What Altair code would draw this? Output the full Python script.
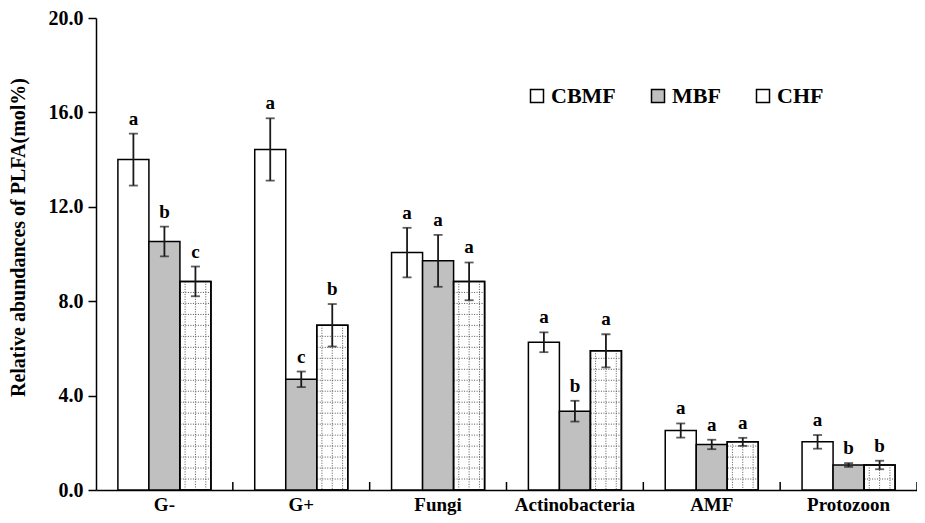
import altair as alt
import pandas as pd

categories = ["G-", "G+", "Fungi", "Actinobacteria", "AMF", "Protozoon"]
groups = ["CBMF", "MBF", "CHF"]

cbmf_mean = [14.0, 14.43, 10.06, 6.26, 2.52, 2.04]
cbmf_err = [1.1, 1.32, 1.05, 0.42, 0.3, 0.29]
cbmf_letters = ["a", "a", "a", "a", "a", "a"]

mbf_mean = [10.53, 4.69, 9.71, 3.34, 1.93, 1.06]
mbf_err = [0.63, 0.33, 1.1, 0.44, 0.2, 0.08]
mbf_letters = ["b", "c", "a", "b", "a", "b"]

chf_mean = [8.84, 6.98, 8.84, 5.9, 2.04, 1.06]
chf_err = [0.63, 0.9, 0.8, 0.7, 0.17, 0.18]
chf_letters = ["c", "b", "a", "a", "a", "b"]

y_ticks = [0, 4, 8, 12, 16, 20]

FONT = "'Liberation Serif', 'Times New Roman', Times, 'DejaVu Serif', serif"
W, H = 821, 472
PAD_IN, PAD_OUT = 0.32, 0.16

rows = []
for g, means, errs, lets in [("CBMF", cbmf_mean, cbmf_err, cbmf_letters),
                             ("MBF", mbf_mean, mbf_err, mbf_letters),
                             ("CHF", chf_mean, chf_err, chf_letters)]:
    for c, m, e, l in zip(categories, means, errs, lets):
        rows.append({"cat": c, "group": g, "mean": m, "lo": m - e, "hi": m + e, "letter": l})
df = pd.DataFrame(rows)
df_chf = df[df.group == "CHF"]

# hatch (grid) pattern rows for the CHF bars: a styling decoration, spacing ~11px
pat_step = 0.465
pat_rows = []
for c, m in zip(categories, chf_mean):
    k = 1
    while k * pat_step < m - 0.15:
        pat_rows.append({"cat": c, "level": k * pat_step})
        k += 1
df_pat = pd.DataFrame(pat_rows)
df_cat = pd.DataFrame({"cat": categories})

xscale = alt.Scale(domain=categories, paddingInner=PAD_IN, paddingOuter=PAD_OUT)
yscale = alt.Scale(domain=[0, 20], nice=False)
offscale = alt.Scale(domain=groups, paddingInner=0, paddingOuter=0)

xaxis = alt.Axis(title=None, ticks=False, labelFont=FONT, labelFontWeight="bold",
                 labelFontSize=19, labelColor="black", labelAngle=0,
                 labelBaseline="alphabetic", labelPadding=20,
                 domainColor="black", domainWidth=1.5, grid=False)
yaxis = alt.Axis(title="Relative abundances of PLFA(mol%)", values=y_ticks, format=".1f",
                 tickSize=8, tickColor="black", tickWidth=1.5,
                 domainColor="black", domainWidth=1.5, grid=False,
                 labelFont=FONT, labelFontWeight="bold", labelFontSize=20,
                 labelColor="black", labelPadding=5,
                 titleFont=FONT, titleFontWeight="bold", titleFontSize=20,
                 titleColor="black", titleX=-68, titleY=219, titleAngle=270,
                 titleBaseline="bottom", titleAlign="center")


def xenc(bp=None):
    if bp is None:
        return alt.X("cat:N", scale=xscale, axis=xaxis, sort=categories)
    return alt.X("cat:N", scale=xscale, axis=xaxis, sort=categories, bandPosition=bp)


def yenc(field):
    return alt.Y(f"{field}:Q", scale=yscale, axis=yaxis)


xoff = alt.XOffset("group:N", scale=offscale, sort=groups)

bars = alt.Chart(df).mark_bar(stroke="black", strokeWidth=1.5).encode(
    x=xenc(),
    xOffset=xoff,
    y=yenc("mean"),
    color=alt.Color("group:N",
                    scale=alt.Scale(domain=groups, range=["white", "#c0c0c0", "white"]),
                    legend=alt.Legend(title=None, orient="none", legendX=430, legendY=67,
                                      direction="horizontal", symbolType="square",
                                      symbolSize=169, symbolStrokeColor="black",
                                      symbolStrokeWidth=1.5, labelFont=FONT,
                                      labelFontSize=22, labelFontWeight="bold",
                                      labelColor="black", labelOffset=3,
                                      columnPadding=31, padding=0)),
)

pat_layers = []
for bp in [0.7222, 0.8333, 0.9444]:
    pat_layers.append(
        alt.Chart(df_chf).mark_rule(color="#555555", strokeWidth=1, strokeDash=[1, 1.5]).encode(
            x=xenc(bp), y=yenc("mean"), y2=alt.datum(0)
        )
    )
pat_h = alt.Chart(df_pat).mark_rule(color="#555555", strokeWidth=1, strokeDash=[1, 1.5]).encode(
    x=xenc(0.672), x2=alt.X2("cat", bandPosition=0.995), y=yenc("level")
)

bars_outline = alt.Chart(df_chf).mark_bar(stroke="black", strokeWidth=1.5, fillOpacity=0).encode(
    x=xenc(), xOffset=xoff, y=yenc("mean")
)

err = alt.Chart(df).mark_rule(color="#1a1a1a", strokeWidth=1.8).encode(
    x=xenc(), xOffset=xoff, y=yenc("lo"), y2="hi:Q"
)
cap_hi = alt.Chart(df).mark_tick(orient="horizontal", size=9, thickness=1.8, color="#1a1a1a").encode(
    x=xenc(), xOffset=xoff, y=yenc("hi")
)
cap_lo = alt.Chart(df).mark_tick(orient="horizontal", size=9, thickness=1.8, color="#1a1a1a").encode(
    x=xenc(), xOffset=xoff, y=yenc("lo")
)
letters = alt.Chart(df).mark_text(font=FONT, fontWeight="bold", fontSize=19,
                                  baseline="alphabetic", dy=-9, color="black").encode(
    x=xenc(), xOffset=xoff, y=yenc("hi"), text="letter:N"
)

# separator ticks at the right edge of each category step (pointing up)
step_px = W / 6
sep_ticks = alt.Chart(df_cat).mark_rule(color="black", strokeWidth=1.5,
                                        xOffset=PAD_OUT * step_px).encode(
    x=xenc(1), y=alt.value(H), y2=alt.value(H - 8)
)

chart = alt.layer(
    bars, *pat_layers, pat_h, bars_outline, err, cap_hi, cap_lo, letters, sep_ticks
).properties(
    width=W, height=H,
    autosize=alt.AutoSizeParams(type="none"),
    padding={"left": 88, "top": 10, "right": 0, "bottom": 25},
    background="white",
).configure_view(stroke=None)

chart.save("out.html", embed_options={"renderer": "svg", "actions": False})
